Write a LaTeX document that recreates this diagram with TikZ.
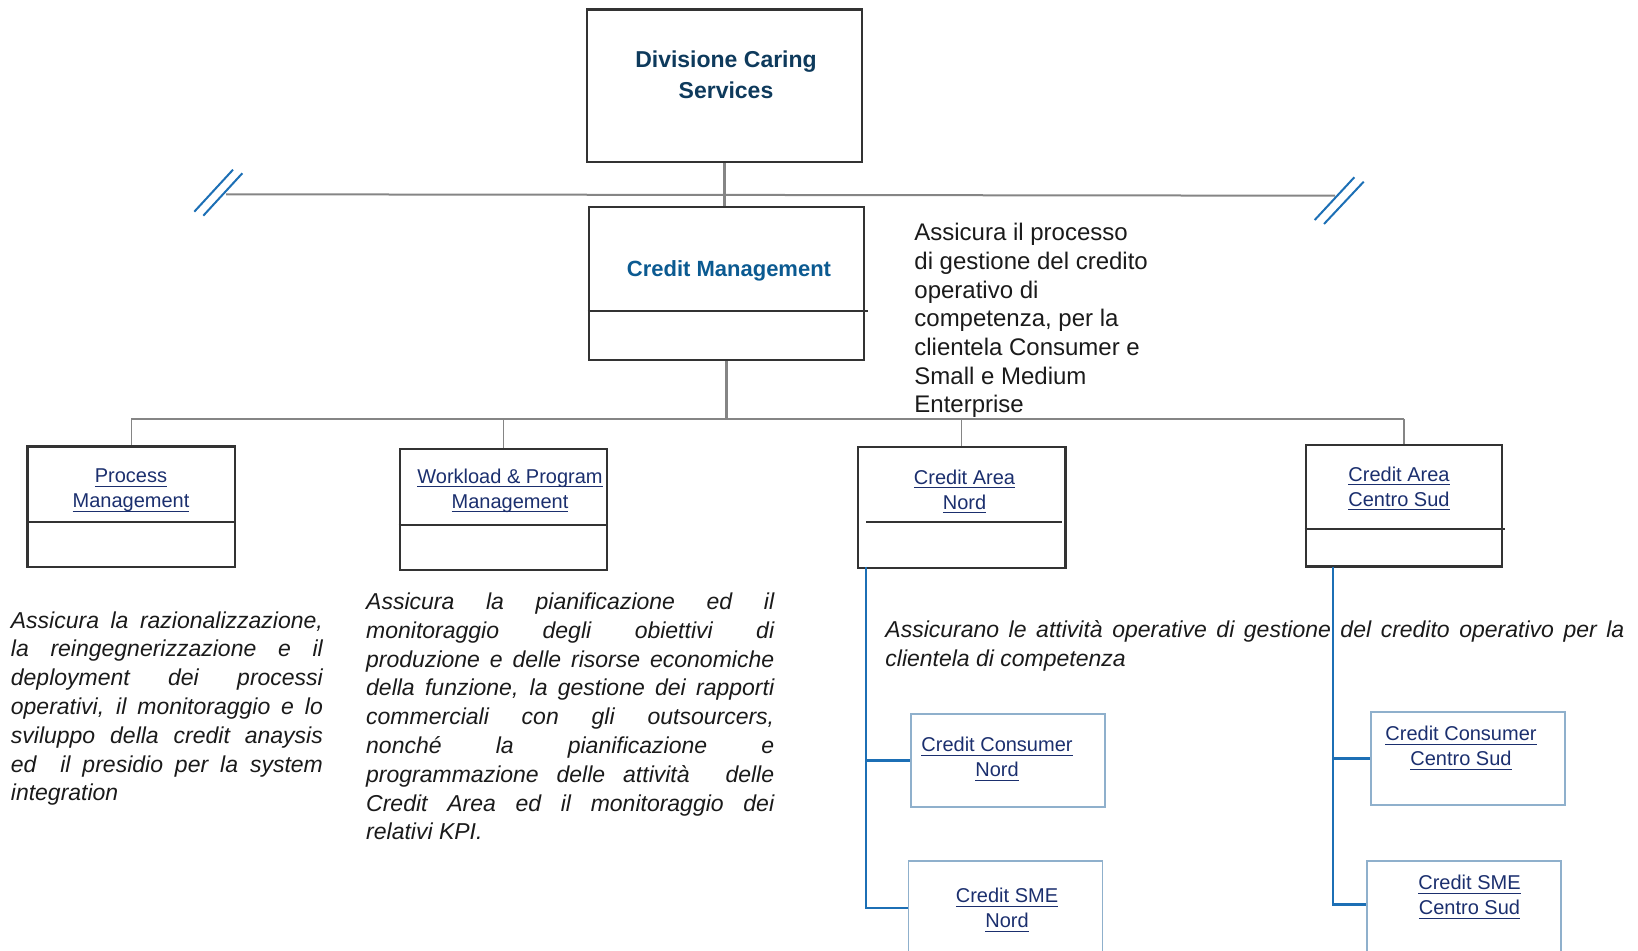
\documentclass[tikz,border=0pt]{standalone}
\usepackage{fontspec}
\setmainfont{Liberation Sans}
\usepackage{tikz}
\usepackage{color}

\definecolor{titlenavy}{HTML}{0E3A5C}
\definecolor{cmblue}{HTML}{0B5A91}
\definecolor{linkblue}{HTML}{1B2F6E}
\definecolor{connblue}{HTML}{1C6FB5}
\definecolor{subborder}{HTML}{8FB0CC}
\definecolor{boxgray}{HTML}{333333}
\definecolor{linegray}{HTML}{858585}
\definecolor{notegray}{HTML}{1A1A1A}

\newsavebox\lnkbox
\newcommand{\lnk}[1]{\sbox\lnkbox{#1}\rlap{\rule[-2.2pt]{\wd\lnkbox}{0.55pt}}\usebox\lnkbox}
\tolerance=10000
\hbadness=10000

\begin{document}
\begin{tikzpicture}[x=0.5pt,y=-0.5pt,
		box node/.style={rectangle,draw=boxgray,line width=1.3pt,inner sep=0pt},
		sub node/.style={rectangle,draw=subborder,line width=0.8pt,inner sep=0pt},
		head text/.style={align=center,inner sep=0pt,text=titlenavy,font=\bfseries\fontsize{11.5}{15.75}\selectfont},
		link text/.style={align=center,inner sep=0pt,text=linkblue,font=\fontsize{10}{12.5}\selectfont},
		note text/.style={align=justify,anchor=north west,inner sep=0pt,text=notegray,font=\itshape\fontsize{11.5}{14.4}\selectfont},
		gray link/.style={draw=linegray,line width=1pt},
		blue link/.style={draw=connblue,line width=1.3pt},
		divider/.style={draw=boxgray,line width=1.3pt}]

		\clip (0,0) rectangle (1638,951);

		\node[box node, minimum width=137.5pt, minimum height=76.25pt] (div) at (724.5,85.75) {};
		\node[box node, minimum width=137.5pt, minimum height=76.5pt] (cm) at (726.5,283.5) {};
		\node[box node, minimum width=103.75pt, minimum height=60.15pt] (pm) at (131.25,506.85) {};
		\node[box node, minimum width=103.5pt, minimum height=60.5pt] (wpm) at (503.5,509.5) {};
		\node[box node, minimum width=103.75pt, minimum height=60.5pt] (can) at (961.75,507.5) {};
		\node[box node, minimum width=98pt, minimum height=60.85pt] (cas) at (1404,505.85) {};

		\node[sub node, minimum width=97pt, minimum height=46.65pt] (ccn) at (1008,760.35) {};
		\node[sub node, minimum width=97pt, minimum height=70pt] (csn) at (1005.65,931) {};
		\node[sub node, minimum width=97pt, minimum height=46.65pt] (ccs) at (1468,758.35) {};
		\node[sub node, minimum width=97pt, minimum height=70pt] (css) at (1464,931) {};

		\node[head text] (divt) at (726,75) {Divisione Caring\\Services};
		\node[head text, text=cmblue, font=\bfseries\fontsize{11}{13}\selectfont] (cmt) at (729,271) {Credit Management};

		\node[link text] (pmt) at (131,490.5) {\lnk{Process}\\\lnk{Management}};
		\node[link text] (wpmt) at (510,490.5) {\lnk{Workload \& Program}\\\lnk{Management}};
		\node[link text] (cant) at (964.5,491.5) {\lnk{Credit Area}\\\lnk{Nord}};
		\node[link text] (cast) at (1399,488.5) {\lnk{Credit Area}\\\lnk{Centro Sud}};
		\node[link text] (ccnt) at (997,759) {\lnk{Credit Consumer}\\\lnk{Nord}};
		\node[link text] (csnt) at (1007,910) {\lnk{Credit SME}\\\lnk{Nord}};
		\node[link text] (ccst) at (1461,748) {\lnk{Credit Consumer}\\\lnk{Centro Sud}};
		\node[link text] (csst) at (1469.5,897) {\lnk{Credit SME}\\\lnk{Centro Sud}};

		\node[align=left, anchor=north west, inner sep=0pt, text=notegray, font=\fontsize{12}{14.35}\selectfont] (cmnote) at (914,223)
			{Assicura il processo\\di gestione del credito\\operativo di\\competenza, per la\\clientela Consumer e\\Small e Medium\\Enterprise};

		\node[note text, text width=156pt] (pmnote) at (10.5,611)
			{Assicura la razionalizzazione, \linebreak la reingegnerizzazione e il \linebreak deployment dei processi \linebreak operativi, il monitoraggio e lo \linebreak sviluppo della credit anaysis \linebreak ed\ \ il presidio per la system \linebreak integration};
		\node[note text, text width=204pt] (wpmnote) at (365.8,592.5)
			{Assicura la pianificazione ed il \linebreak monitoraggio degli obiettivi di \linebreak produzione e delle risorse economiche \linebreak della funzione, la gestione dei rapporti \linebreak commerciali con gli outsourcers, \linebreak nonché la pianificazione e \linebreak programmazione delle attività\ \ delle \linebreak Credit Area ed il monitoraggio dei \linebreak relativi KPI.};
		\node[note text, text width=369.5pt] (areanote) at (885,620)
			{Assicurano le attività operative di gestione del credito operativo per la \linebreak clientela di competenza};

		\draw[divider, line width=0.8pt] (cm.west |- 0,311) -- (868,311);
		\draw[divider] (pm.west |- 0,522) -- (pm.east |- 0,522);
		\draw[divider] (wpm.west |- 0,525) -- (wpm.east |- 0,525);
		\draw[divider] (866,522) -- (1062,522);
		\draw[divider] (cas.west |- 0,529) -- (1505,529);

		\coordinate (lcut) at (226,194.3);
		\coordinate (rcut) at (1335,195.7);
		\draw[gray link] (lcut) -- (rcut);
		\draw[connblue, line width=1pt] (194.3,211.7) -- (233,169.7) (203.3,215.7) -- (242.3,173.3);
		\draw[connblue, line width=1pt] (1314.7,220) -- (1354.3,177.3) (1324,224) -- (1363.7,181.7);

		\coordinate (bus) at (725,419);
		\path[gray link, line width=1.3pt]
			(div.south) edge (div.south |- cm.north)
			(cm.south) edge (cm.south |- bus)
			(pm.north |- bus) edge (cas.north |- bus);
		\path[gray link, line width=0.7pt]
			(pm.north |- bus) edge (pm.north)
			(wpm.north |- bus) edge (wpm.north)
			(can.north |- bus) edge (can.north)
			(cas.north |- bus) edge (cas.north);

		\coordinate (nordtop) at (866,567);
		\coordinate (nordend) at (866,908);
		\coordinate (sudtop) at (1333,566.7);
		\coordinate (sudend) at (1333,904.7);
		\draw[blue link] (nordtop) |- (ccn.west);
		\draw[blue link] (nordtop) -- (nordend) -- (nordend -| csn.west);
		\draw[blue link] (sudtop) |- (ccs.west);
		\draw[blue link] (sudtop) -- (sudend) -- (sudend -| css.west);
\end{tikzpicture}
\end{document}
